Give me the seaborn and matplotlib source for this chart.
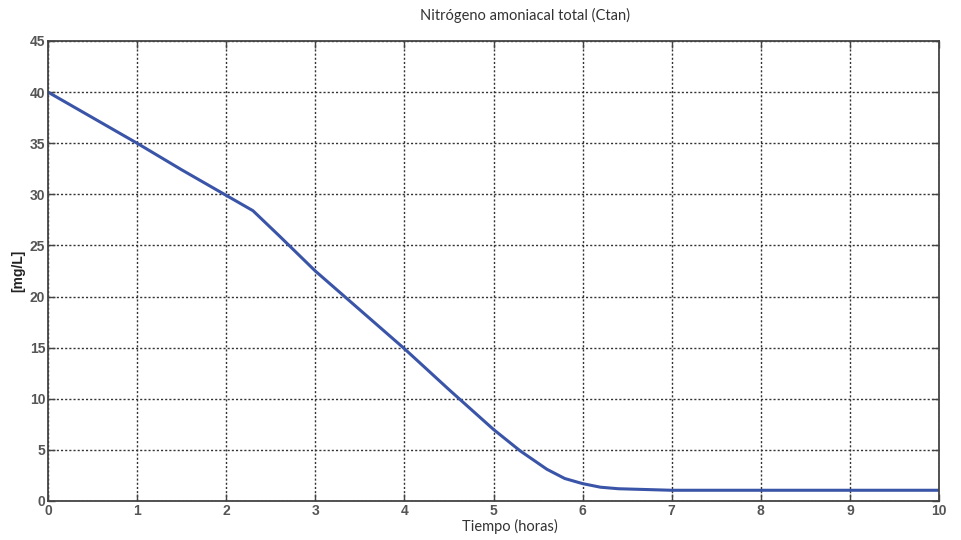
import matplotlib
matplotlib.use("Agg")
import matplotlib.pyplot as plt
import seaborn as sns
import pandas as pd

tiempo = [0.0, 0.5, 1.0, 1.5, 2.0, 2.3, 2.6, 3.0, 3.5, 4.0, 4.5, 5.0, 5.3, 5.6, 5.8, 6.0, 6.2, 6.4, 6.6, 6.8, 7.0, 8.0, 9.0, 10.0]
ctan = [40.0, 37.5, 35.0, 32.4, 29.9, 28.4, 25.9, 22.5, 18.7, 14.9, 10.9, 7.0, 4.9, 3.1, 2.2, 1.7, 1.35, 1.2, 1.15, 1.1, 1.05, 1.05, 1.05, 1.05]
xticks = list(range(0, 11))
yticks = list(range(0, 50, 5))

df = pd.DataFrame({"t": tiempo, "c": ctan})

sns.set_theme(style="white")
plt.rcParams['font.family'] = ['Liberation Sans', 'DejaVu Sans']

fig = plt.figure(figsize=(9.61, 5.40), dpi=100)
ax = fig.add_axes([48/961, 1 - 501/540, (939-48)/961, (501-41)/540])
sns.lineplot(data=df, x="t", y="c", ax=ax, color="#3a55a8", linewidth=2.2)

ax.set_xlim(0, 10)
ax.set_ylim(0, 45)
ax.set_xticks(xticks)
ax.set_yticks(yticks)
ax.tick_params(direction="in", length=5, width=1, colors="#444444", labelsize=10, pad=2,
               top=True, right=True, bottom=True, left=True)
for lab in ax.get_xticklabels() + ax.get_yticklabels():
    lab.set_fontweight("bold")
    lab.set_color("#555555")
ax.grid(True, linestyle=(0, (1.5, 1.5)), color="#333333", linewidth=1.0)
for s in ax.spines.values():
    s.set_color("#444444")
    s.set_linewidth(1.3)

ax.set_xlabel("")
ax.set_ylabel("")
fig.text(510/961, 1 - 526/540, "Tiempo (horas)", ha="center", va="center", fontsize=10.5,
         family=['Lato', 'DejaVu Sans'], color="#333333")
fig.text(18/961, 1 - 271/540, "[mg/L]", ha="center", va="center", rotation=90, fontsize=10,
         fontweight="bold", color="#222222")
fig.text(525/961, 1 - 15/540, "Nitrógeno amoniacal total (Ctan)", ha="center", va="center",
         fontsize=10.5, family=['Lato', 'DejaVu Sans'], color="#333333")

fig.savefig("out.png", dpi=100, facecolor="white")
